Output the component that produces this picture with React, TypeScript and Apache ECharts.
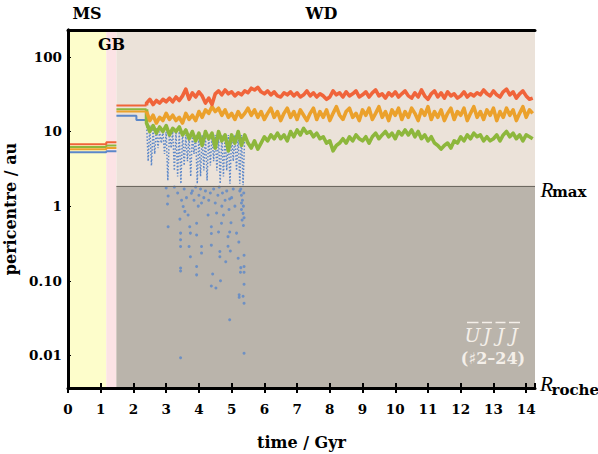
import React, { useEffect, useRef } from 'react';
import * as echarts from 'echarts';

const X_MAX = 14.27;
const Y_MIN = 0.00366;
const Y_MAX = 229;
const R_MAX = 1.87;
const MS_END = 1.17;
const GB_END = 1.48;
const BLUE_STEP_T = 2.09;
const CHAOS_START = 2.4;

// level order: red, orange, green, blue
const msLevels = [6.76, 5.79, 6.22, 5.28];
const gbLevels = [7.2, 6.0, 6.5, 5.45];
const postGbLevels = [22.3, 18.5, 19.9, 16.3];
const bluePostStep = 14.3;

const wdTimes = [
  2.4, 2.5, 2.6, 2.7, 2.8, 2.9, 3.0, 3.1, 3.2, 3.3,
  3.4, 3.5, 3.6, 3.7, 3.8, 3.9, 4.0, 4.1, 4.2, 4.3,
  4.4, 4.5, 4.6, 4.7, 4.8, 4.9, 5.0, 5.1, 5.2, 5.3,
  5.4, 5.5, 5.6, 5.7, 5.8, 5.9, 6.0, 6.1, 6.2, 6.3,
  6.4, 6.5, 6.6, 6.7, 6.8, 6.9, 7.0, 7.1, 7.2, 7.3,
  7.4, 7.5, 7.6, 7.7, 7.8, 7.9, 8.0, 8.1, 8.2, 8.3,
  8.4, 8.5, 8.6, 8.7, 8.8, 8.9, 9.0, 9.1, 9.2, 9.3,
  9.4, 9.5, 9.6, 9.7, 9.8, 9.9, 10.0, 10.1, 10.2, 10.3,
  10.4, 10.5, 10.6, 10.7, 10.8, 10.9, 11.0, 11.1, 11.2, 11.3,
  11.4, 11.5, 11.6, 11.7, 11.8, 11.9, 12.0, 12.1, 12.2, 12.3,
  12.4, 12.5, 12.6, 12.7, 12.8, 12.9, 13.0, 13.1, 13.2, 13.3,
  13.4, 13.5, 13.6, 13.7, 13.8, 13.9, 14.0, 14.1, 14.2,
];

const redWD = [
  24, 27, 23, 26, 24, 27, 25, 28, 25, 29,
  26, 30, 37, 27, 33, 29, 34, 30, 24, 28,
  23, 32, 35, 31, 36, 32, 34, 30, 33, 31,
  35, 33, 38, 36, 39, 34, 32, 35, 31, 34,
  30, 29, 33, 31, 34, 30, 33, 29, 31, 35,
  30, 33, 29, 32, 30, 27, 29, 35, 31, 33,
  29, 34, 30, 32, 35, 29, 31, 34, 29, 33,
  36, 30, 32, 28, 33, 30, 34, 29, 32, 35,
  30, 28, 33, 29, 36, 30, 27, 32, 35, 29,
  33, 28, 34, 30, 32, 28, 30, 34, 29, 32,
  30, 33, 31, 36, 32, 30, 35, 31, 29, 34,
  37, 31, 34, 28, 32, 35, 30, 27, 28,
];

const orangeWD = [
  18.5, 14, 16.5, 13, 15.5, 14, 17.5, 14.5, 16.5, 14,
  15.5, 13, 17.5, 14.5, 16.5, 14, 18.5, 15.5, 19.5, 17.5,
  21.5, 18.5, 20.5, 16.5, 19.5, 15.5, 17.5, 14.5, 18.5, 15.5,
  17.5, 20.5, 16.5, 19.5, 15.5, 18.5, 14.5, 17.5, 20.5, 15.5,
  18.5, 14, 17.5, 20.5, 15.5, 18.5, 14.5, 19.5, 16.5, 14,
  17.5, 20.5, 14.5, 18.5, 15.5, 19.5, 14, 17.5, 21.5, 16.5,
  14.5, 18.5, 20.5, 15.5, 17.5, 14, 19.5, 16.5, 20.5, 14.5,
  17.5, 21.5, 15.5, 18.5, 14, 19.5, 16.5, 20.5, 14.5, 18.5,
  15.5, 20.5, 17.5, 14, 19.5, 16.5, 21.5, 14.5, 18.5, 15.5,
  19.5, 14, 17.5, 20.5, 14.5, 18.5, 16.5, 20.5, 14, 17.5,
  21.5, 15.5, 18.5, 14.5, 19.5, 16.5, 20.5, 14, 18.5, 15.5,
  20.5, 16.5, 19.5, 14, 17.5, 21.5, 15.5, 19.5, 17.5,
];

const greenWD = [
  13, 10, 12, 9.5, 11.5, 10, 12, 9, 11, 10,
  11.5, 9, 10.5, 8, 10, 7.5, 9.5, 6.5, 10, 8,
  9.5, 6, 10, 7.5, 9, 5.5, 9, 7, 10, 6.5,
  9, 7, 6, 7.5, 5.8, 7, 8.5, 7.5, 9, 8,
  9.5, 8, 9, 7.5, 10, 8.5, 10.5, 9, 11, 9.5,
  10, 8.5, 9.5, 8, 8.5, 7, 7.5, 5.5, 6.5, 7,
  8, 7, 8.5, 7.5, 9, 8, 7.5, 8.5, 7, 8.5,
  9.5, 8, 9, 10, 8.5, 9.5, 8, 10, 9, 10.5,
  9, 10.5, 8.5, 10, 8, 9, 7.5, 8.5, 7, 6.5,
  5.8, 6.5, 7, 6, 7.5, 7, 8.5, 7.5, 9, 8,
  9.5, 8.5, 9, 7.5, 8.5, 7.5, 8, 9, 7.5, 9,
  10, 8.5, 9.5, 8, 9, 7.5, 9, 8.5, 8,
];

const streakTimes = [
  2.40, 2.45, 2.50, 2.55, 2.60, 2.65, 2.70, 2.75, 2.80, 2.85,
  2.90, 2.95, 3.00, 3.05, 3.10, 3.15, 3.20, 3.25, 3.30, 3.35,
  3.40, 3.45, 3.50, 3.55, 3.60, 3.65, 3.70, 3.75, 3.80, 3.85,
  3.90, 3.95, 4.00, 4.05, 4.10, 4.15, 4.20, 4.25, 4.30, 4.35,
  4.40, 4.45, 4.50, 4.55, 4.60, 4.65, 4.70, 4.75, 4.80, 4.85,
  4.90, 4.95, 5.00, 5.05, 5.10, 5.15, 5.20, 5.25, 5.30, 5.35,
  5.40,
];

const blueStreak = [
  13, 4, 12, 3.5, 11, 5, 11, 6, 10, 7,
  10, 5, 10, 2.2, 10, 6, 10, 3, 10, 2.5,
  10, 2, 10, 3.5, 9, 4, 9, 2.5, 9, 5,
  9, 2, 9, 2.5, 9, 3, 9, 2.2, 9, 3.5,
  9, 4, 9, 3, 9, 2, 9, 2.5, 9, 3,
  9, 2, 9, 4, 9, 3, 9, 2, 9, 1.9,
  9,
];

const blueDots: [number, number][] = [
  [3.0, 1.75], [3.06, 1.37], [3.04, 1.07], [3.06, 0.53], [3.42, 0.67], [3.44, 0.435],
  [3.44, 0.354], [3.44, 0.288], [3.44, 0.148], [3.44, 0.135], [3.44, 0.0093], [3.52, 0.99],
  [3.57, 0.85], [3.67, 0.76], [3.72, 0.53], [3.7, 0.288], [3.74, 0.435], [3.74, 0.21],
  [3.77, 1.49], [3.93, 0.59], [3.93, 0.41], [3.93, 0.155], [3.93, 0.12], [3.98, 1.0],
  [4.08, 0.288], [4.08, 0.235], [4.08, 1.1], [4.28, 0.76], [4.38, 0.53], [4.38, 0.43],
  [4.38, 0.3], [4.42, 0.123], [4.38, 0.085], [4.52, 0.08], [4.54, 0.81], [4.6, 0.45],
  [4.64, 0.247], [4.64, 0.21], [4.66, 0.1], [4.69, 0.59], [4.7, 1.0], [4.75, 0.76],
  [4.82, 0.18], [4.89, 0.29], [4.89, 0.39], [4.94, 0.03], [4.94, 0.45], [4.96, 0.25],
  [4.98, 0.6], [4.94, 1.25], [5.15, 0.435], [5.2, 0.2], [5.22, 0.33], [5.27, 0.13],
  [5.28, 0.15], [5.35, 0.062], [5.23, 0.065], [5.38, 0.05], [5.38, 0.0107], [5.38, 0.22],
  [5.38, 0.155], [5.38, 0.13], [5.38, 0.09], [5.23, 0.06],
  [5.25, 1.6], [5.3, 1.4], [5.33, 1.2], [5.36, 1.0], [5.3, 0.9], [5.35, 0.8],
  [5.38, 0.7], [5.28, 1.7], [5.37, 1.5], [5.32, 0.65], [5.36, 0.55], [5.3, 1.1],
  [3.55, 1.7], [3.62, 1.3], [3.8, 1.6], [3.85, 1.2], [3.9, 1.8], [4.0, 1.4],
  [4.05, 1.7], [4.15, 1.3], [4.2, 1.6], [4.3, 1.2], [4.35, 1.5], [4.45, 1.7],
  [4.5, 1.1], [4.58, 1.4], [4.62, 1.8], [4.72, 1.5], [4.8, 1.2], [4.85, 1.6],
  [4.92, 0.9], [5.0, 1.3], [5.05, 1.7], [5.1, 1.0], [3.35, 1.5], [3.25, 1.8], [3.47, 1.2],
];

const RED = '#f0643a';
const ORANGE = '#eba12c';
const GREEN = '#8db73c';
const BLUE = '#5b87c9';
const FONT = "'DejaVu Serif', serif";

function flatData(i: number) {
  return [
    [0, msLevels[i]], [MS_END, msLevels[i]], [MS_END, gbLevels[i]], [GB_END, gbLevels[i]],
    [GB_END, '-'],
    [GB_END, postGbLevels[i]], [CHAOS_START, postGbLevels[i]],
  ];
}

function wdData(i: number, wd: number[]) {
  const pts: any[] = [[CHAOS_START, postGbLevels[i]]];
  wdTimes.forEach((t, k) => pts.push([t, wd[k]]));
  return pts;
}

function yLabel(v: number) {
  const l = Math.log10(v);
  if (Math.abs(l - Math.round(l)) > 1e-6) return '';
  return v >= 1 ? String(Math.round(v)) : v.toFixed(2);
}

export default function App() {
  const ref = useRef<HTMLDivElement>(null);
  useEffect(() => {
    if (!ref.current) return;
    const chart = echarts.init(ref.current, undefined, { renderer: 'svg' });
    const blueFlat: any[] = [
      [0, msLevels[3]], [MS_END, msLevels[3]], [MS_END, gbLevels[3]], [GB_END, gbLevels[3]],
      [GB_END, '-'],
      [GB_END, postGbLevels[3]], [BLUE_STEP_T, postGbLevels[3]], [BLUE_STEP_T, bluePostStep], [CHAOS_START, bluePostStep],
    ];
    const streak = streakTimes.map((t, k) => [t, blueStreak[k]]);
    const lineCommon = { type: 'line', showSymbol: false, symbol: 'none', silent: true, z: 3 };
    const colors = [RED, ORANGE, GREEN];
    const wdSets = [redWD, orangeWD, greenWD];
    const bandSeries: any[] = [];
    [2, 1, 0].forEach((i) => {
      bandSeries.push({ ...lineCommon, data: flatData(i), lineStyle: { color: colors[i], width: 2 } });
      bandSeries.push({ ...lineCommon, data: wdData(i, wdSets[i]), lineStyle: { color: colors[i], width: 3.6, join: 'round' } });
    });
    const letterStyle = { fontFamily: FONT, fontStyle: 'italic', fontSize: 19, fill: '#f4efe9', align: 'center', verticalAlign: 'middle' };
    const option: any = {
      animation: false,
      textStyle: { fontFamily: FONT },
      grid: { left: 68, right: 63, top: 30, bottom: 66, containLabel: false, outerBoundsMode: 'none', show: false },
      xAxis: [
        {
          type: 'value', min: 0, max: X_MAX, interval: 1, position: 'bottom', z: 10,
          axisLine: { show: true, lineStyle: { color: '#000', width: 3 } },
          axisTick: { show: true, inside: false, length: 5, lineStyle: { color: '#000', width: 2 } },
          axisLabel: { show: true, showMaxLabel: false, margin: 14, color: '#000', fontFamily: FONT, fontWeight: 'bold', fontSize: 13.5,
            formatter: (v: number) => (Math.abs(v - Math.round(v)) < 1e-6 ? String(Math.round(v)) : '') },
          splitLine: { show: false },
          name: 'time / Gyr', nameLocation: 'middle', nameGap: 46,
          nameTextStyle: { color: '#000', fontFamily: FONT, fontWeight: 'bold', fontSize: 16 },
        },
        {
          type: 'value', min: 0, max: X_MAX, interval: 1, position: 'bottom', z: 10,
          axisLine: { show: false },
          axisTick: { show: true, inside: true, length: 5, lineStyle: { color: '#000', width: 2 } },
          axisLabel: { show: false }, splitLine: { show: false },
        },
        {
          type: 'value', min: 0, max: X_MAX, position: 'top', z: 10,
          axisLine: { show: true, lineStyle: { color: '#000', width: 3 } },
          axisTick: { show: false }, axisLabel: { show: false }, splitLine: { show: false },
        },
      ],
      yAxis: [
        {
          type: 'log', logBase: 10, min: Y_MIN, max: Y_MAX, position: 'left', z: 10,
          axisLine: { show: true, lineStyle: { color: '#000', width: 3 } },
          axisTick: { show: true, inside: true, length: 3, lineStyle: { color: '#000', width: 1 } },
          axisLabel: { show: true, showMinLabel: false, showMaxLabel: false, margin: 6, color: '#000', fontFamily: FONT, fontWeight: 'bold', fontSize: 13.5, formatter: yLabel },
          splitLine: { show: false },
          name: 'pericentre / au', nameLocation: 'middle', nameGap: 50, nameRotate: 90,
          nameTextStyle: { color: '#000', fontFamily: FONT, fontWeight: 'bold', fontSize: 16 },
        },
        {
          type: 'log', logBase: 10, min: Y_MIN, max: Y_MAX, position: 'right', z: 10,
          axisLine: { show: true, lineStyle: { color: '#000', width: 3 } },
          axisTick: { show: false }, axisLabel: { show: false }, splitLine: { show: false },
        },
      ],
      series: [
        {
          type: 'line', data: [], silent: true, z: 1, showSymbol: false,
          markArea: {
            silent: true,
            label: { show: false },
            data: [
              [{ xAxis: 0, itemStyle: { color: '#fdfdcb' } }, { xAxis: MS_END }],
              [{ xAxis: MS_END, itemStyle: { color: '#fce3e5' } }, { xAxis: GB_END }],
              [{ xAxis: GB_END, itemStyle: { color: '#ebe2d9' } }, { xAxis: X_MAX }],
              [{ xAxis: GB_END, yAxis: Y_MIN, itemStyle: { color: '#bab4ab' } }, { xAxis: X_MAX, yAxis: R_MAX }],
            ],
          },
          markLine: {
            silent: true, symbol: 'none', label: { show: false },
            lineStyle: { color: '#6e6961', width: 1.2, type: 'solid' },
            data: [[{ coord: [GB_END, R_MAX] }, { coord: [X_MAX, R_MAX] }]],
          },
        },
        { ...lineCommon, name: 'blueFlat', data: blueFlat, lineStyle: { color: BLUE, width: 2 } },
        { ...lineCommon, name: 'blueStreak', data: streak, lineStyle: { color: BLUE, width: 1.5, type: [1.5, 1.8] } },
        {
          type: 'scatter', name: 'blueDots', data: blueDots, symbol: 'circle', symbolSize: 3, silent: true, z: 3,
          itemStyle: { color: BLUE },
        },
        ...bandSeries,
      ],
      graphic: [
        { type: 'text', x: 87, y: 13.5, z: 100, style: { text: 'MS', fontFamily: FONT, fontWeight: 'bold', fontSize: 16, fill: '#000', align: 'center', verticalAlign: 'middle' } },
        { type: 'text', x: 321.5, y: 13.5, z: 100, style: { text: 'WD', fontFamily: FONT, fontWeight: 'bold', fontSize: 16, fill: '#000', align: 'center', verticalAlign: 'middle' } },
        { type: 'text', x: 111.5, y: 44.5, z: 100, style: { text: 'GB', fontFamily: FONT, fontWeight: 'bold', fontSize: 16, fill: '#000', align: 'center', verticalAlign: 'middle' } },
        { type: 'text', x: 540.5, y: 190, z: 100, style: { text: 'R', fontFamily: "'Liberation Serif', serif", fontStyle: 'italic', fontSize: 21, fill: '#000', align: 'left', verticalAlign: 'middle' } },
        { type: 'text', x: 552, y: 191.5, z: 100, style: { text: 'max', fontFamily: FONT, fontWeight: 'bold', fontSize: 15, fill: '#000', align: 'left', verticalAlign: 'middle' } },
        { type: 'text', x: 540, y: 383.5, z: 100, style: { text: 'R', fontFamily: "'Liberation Serif', serif", fontStyle: 'italic', fontSize: 21, fill: '#000', align: 'left', verticalAlign: 'middle' } },
        { type: 'text', x: 551.5, y: 389.5, z: 100, style: { text: 'roche', fontFamily: FONT, fontWeight: 'bold', fontSize: 15, fill: '#000', align: 'left', verticalAlign: 'middle' } },
        { type: 'text', x: 472.5, y: 334.5, z: 100, style: { text: 'U', ...letterStyle } },
        { type: 'text', x: 487, y: 334.5, z: 100, style: { text: 'J', ...letterStyle } },
        { type: 'text', x: 500.5, y: 334.5, z: 100, style: { text: 'J', ...letterStyle } },
        { type: 'text', x: 514, y: 334.5, z: 100, style: { text: 'J', ...letterStyle } },
        { type: 'line', z: 100, shape: { x1: 467, y1: 322.5, x2: 478.5, y2: 322.5 }, style: { stroke: '#f4efe9', lineWidth: 1.5 } },
        { type: 'line', z: 100, shape: { x1: 482, y1: 322.5, x2: 492, y2: 322.5 }, style: { stroke: '#f4efe9', lineWidth: 1.5 } },
        { type: 'line', z: 100, shape: { x1: 495.5, y1: 322.5, x2: 505.5, y2: 322.5 }, style: { stroke: '#f4efe9', lineWidth: 1.5 } },
        { type: 'line', z: 100, shape: { x1: 509, y1: 322.5, x2: 520, y2: 322.5 }, style: { stroke: '#f4efe9', lineWidth: 1.5 } },
        { type: 'text', x: 493, y: 358, z: 100, style: { text: '(\u266F2\u201324)', fontFamily: FONT, fontWeight: 'bold', fontSize: 16, fill: '#f4efe9', align: 'center', verticalAlign: 'middle' } },
      ],
    };
    chart.setOption(option);
    return () => chart.dispose();
  }, []);
  return <div ref={ref} style={{ position: 'absolute', left: 0, top: 0, width: 598, height: 454 }} />;
}
